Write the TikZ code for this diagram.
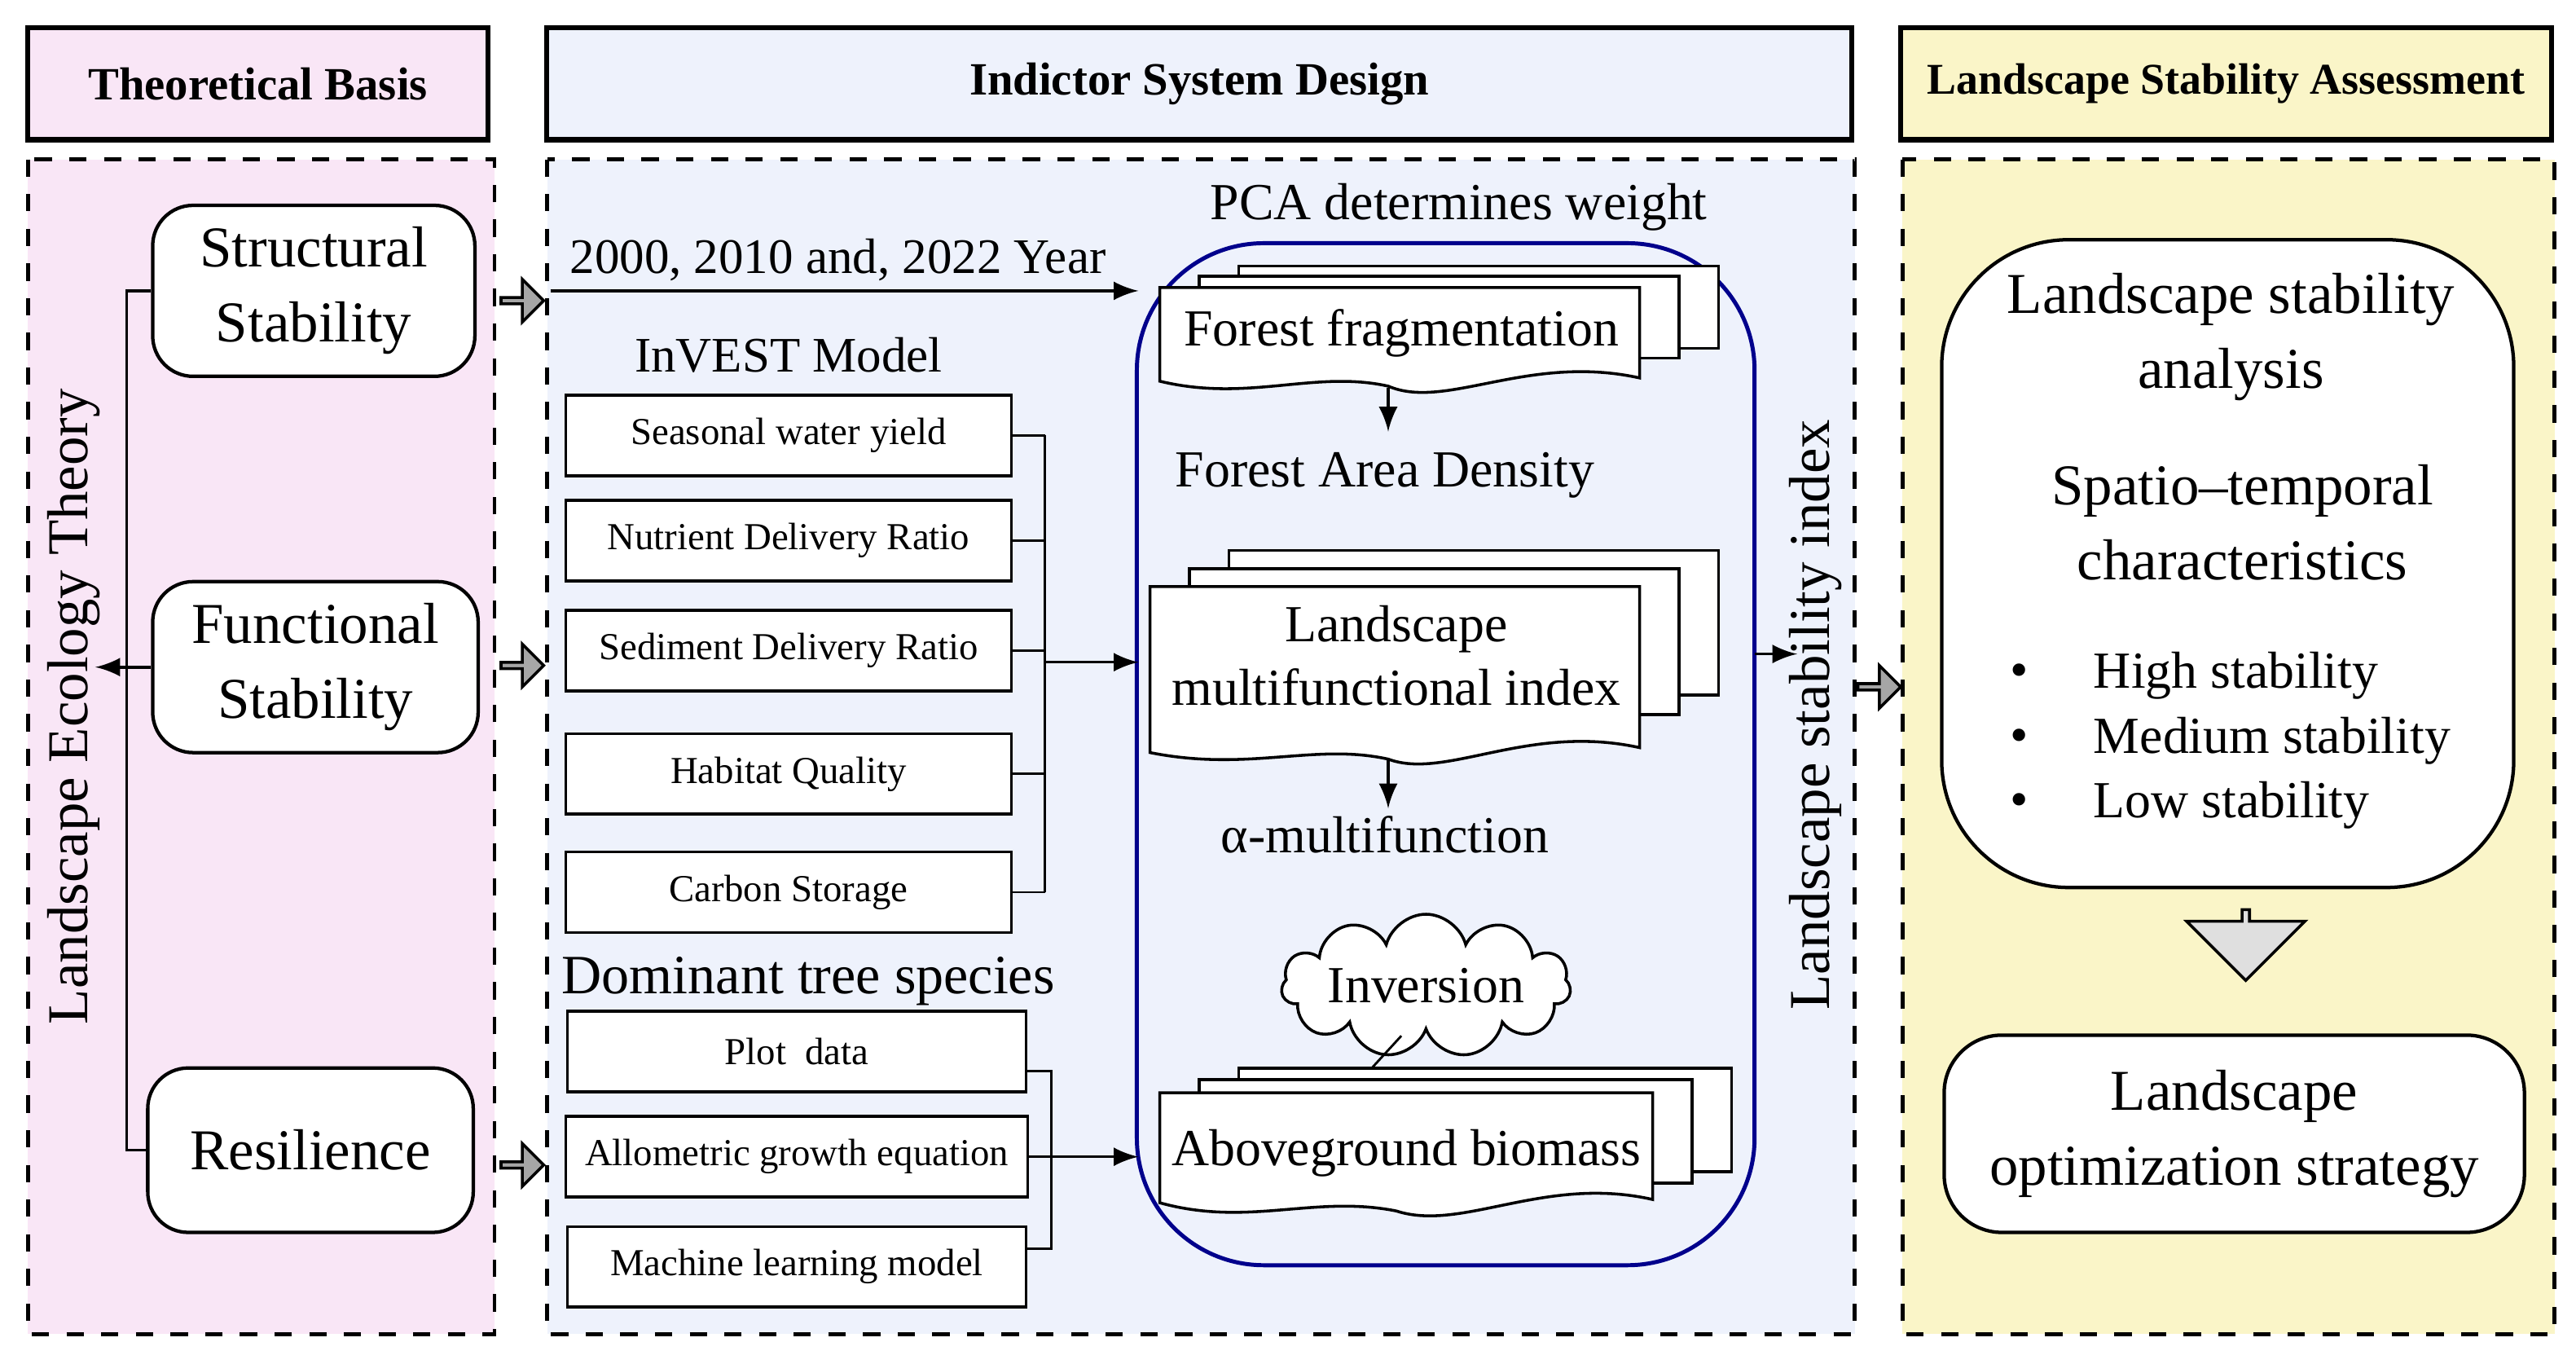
\documentclass[tikz,border=0pt]{standalone}
\usepackage{fontspec}
\setmainfont{Liberation Serif}
\usetikzlibrary{shapes.arrows,shapes.symbols}
\begin{document}
\begin{tikzpicture}[x=0.01cm,y=-0.01cm,
  big/.style={font=\fontsize{10}{13}\selectfont},
  mid/.style={font=\fontsize{8.6}{11}\selectfont},
  small/.style={font=\fontsize{6.6}{8}\selectfont},
  head/.style={draw,line width=0.9pt,font=\fontsize{8}{10}\selectfont\bfseries},
  panel/.style={draw,dashed,line width=0.7pt},
  rbox/.style={draw,rounded corners=7pt,line width=0.6pt,fill=white,big,align=center},
  sbox/.style={draw,line width=0.5pt,fill=white,small},
  arrow/.style={-latex,line width=0.5pt},
  blk/.style={single arrow,draw,fill=gray!70,line width=0.5pt,minimum height=0.26cm,minimum width=0.26cm,single arrow head extend=0.05cm,inner sep=0pt},
  doc/.style={draw,fill=white,line width=0.5pt}
]
\useasboundingbox (0,0) rectangle (1568,830);
\definecolor{pinkf}{HTML}{F9E6F6}
\definecolor{bluef}{HTML}{EEF2FC}
\definecolor{yelf}{HTML}{FAF5C8}
% headers
\node[head,fill=pinkf,minimum width=2.8cm,minimum height=0.68cm] (h1) at (157,51) {Theoretical Basis};
\node[head,fill=bluef,minimum width=7.94cm,minimum height=0.68cm] (h2) at (730,51) {Indictor System Design};
\node[head,fill=yelf,minimum width=3.96cm,minimum height=0.68cm,font=\fontsize{7.6}{9}\selectfont\bfseries] (h3) at (1355,51) {Landscape Stability Assessment};
% panels
\filldraw[panel,fill=pinkf] (17,97) rectangle (301,812);
\filldraw[panel,fill=bluef] (333,97) rectangle (1129,812);
\filldraw[panel,fill=yelf] (1158,97) rectangle (1555,812);
% left
\node[rbox,minimum width=1.96cm,minimum height=1.04cm] (ss) at (191,177) {Structural\\Stability};
\node[rbox,minimum width=1.98cm,minimum height=1.04cm] (fs) at (192,406) {Functional\\Stability};
\node[rbox,minimum width=1.98cm,minimum height=1.0cm] (rs) at (189,700) {Resilience};
\coordinate (t1) at (77,177); \coordinate (t2) at (77,700); \coordinate (t3) at (77,406);
\draw[line width=0.5pt] (ss.west) -- (t1) -- (t2) -- (rs.west);
\draw[line width=0.5pt] (fs.west) -- (t3);
\draw[arrow] (t3) -- (58,406);
\node[big,rotate=90] (let) at (45,430) {Landscape Ecology Theory};
\node[blk] (a1) at (317,183) {};
\node[blk] (a2) at (317,405) {};
\node[blk] (a3) at (317,709) {};
% middle left
\coordinate (ys) at (335,177);
\node[mid] (yr) at (510,158) {2000, 2010 and, 2022 Year};
\node[mid] (inv) at (480,216) {InVEST Model};
\foreach \n/\t/\y in {b1/Seasonal water yield/265,b2/Nutrient Delivery Ratio/329,b3/Sediment Delivery Ratio/396,b4/Habitat Quality/471,b5/Carbon Storage/543}
  \node[sbox,minimum width=2.71cm,minimum height=0.49cm] (\n) at (480,\y) {\t};
\foreach \n in {b1,b2,b3,b4,b5} \draw[line width=0.4pt] (\n.east) -- (636,0 |- \n.east);
\draw[line width=0.4pt] (636,265) -- (636,543);
\coordinate (j1) at (636,403);
\node[mid,font=\fontsize{9.6}{12}\selectfont] (dts) at (492,597) {Dominant tree species};
\foreach \n/\t/\y in {c1/Plot\ \ data/640,c2/Allometric growth equation/704,c3/Machine learning model/771}
  \node[sbox,minimum width=2.79cm,minimum height=0.49cm] (\n) at (485,\y) {\t};
\draw[line width=0.4pt] (c1.east |- 0,652) -- (640,652) -- (640,760) -- (c3.east |- 0,760);
\coordinate (j2) at (640,704);
% blue frame
\draw[line width=0.7pt,draw=blue!55!black,rounded corners=22pt] (692,148) rectangle (1068,770);
\node[mid,font=\fontsize{9}{11}\selectfont] (pca) at (888,126) {PCA determines weight};
\coordinate (be1) at (693,177); \coordinate (be2) at (693,403); \coordinate (be3) at (693,704);
\draw[arrow] (ys) -- (be1);
\draw[arrow] (j1) -- (be2);
\draw[line width=0.4pt] (c2.east) -- (j2);
\draw[arrow] (j2) -- (be3);
% stack 1
\draw[doc] (754,162) rectangle (1046,212);
\draw[doc] (730,168) rectangle (1022,218);
\draw[doc] (706,232) -- (706,175) -- (998,175) -- (998,230) .. controls (930,215) and (880,250) .. (845,235) .. controls (800,225) and (760,245) .. cycle;
\node[mid,font=\fontsize{9}{11}\selectfont] (ff) at (853,203) {Forest fragmentation};
\node[mid,font=\fontsize{9}{11}\selectfont] (fad) at (843,289) {Forest Area Density};
\draw[arrow] (845,236) -- (fad.north -| 845,0);
% stack 2
\draw[doc] (748,335) rectangle (1046,423);
\draw[doc] (724,346) rectangle (1022,435);
\draw[doc] (700,458) -- (700,357) -- (998,357) -- (998,455) .. controls (930,440) and (880,475) .. (845,462) .. controls (800,452) and (760,470) .. cycle;
\node[mid,font=\fontsize{9}{11}\selectfont,align=center] (lmi) at (850,399) {Landscape\\multifunctional index};
\node[mid,font=\fontsize{9}{11}\selectfont] (am) at (843,508) {α-multifunction};
\draw[arrow] (845,462) -- (845,492);
% stack 3
\draw[doc] (754,650) rectangle (1054,713);
\draw[doc] (730,657) rectangle (1030,720);
\draw[doc] (706,732) -- (706,665) -- (1006,665) -- (1006,730) .. controls (940,715) and (890,750) .. (850,737) .. controls (800,727) and (760,747) .. cycle;
\node[mid,font=\fontsize{9}{11}\selectfont] (agb) at (856,702) {Aboveground biomass};
\node[cloud,draw,fill=white,cloud puffs=11,aspect=3.2,minimum width=1.76cm,minimum height=0.62cm,inner sep=0pt,line width=0.5pt,mid,font=\fontsize{9}{11}\selectfont] (cl) at (868,600) {Inversion};
\draw[line width=0.4pt] (cl.south) ++(-15,2) -- (835,650);
% index
\node[big,rotate=90] (lsi) at (1105,435) {Landscape stability index};
\draw[arrow] (1068,398) -- (1094,398);
\node[blk] (a4) at (1143,418) {};
% right
\node[rbox,rounded corners=22pt,minimum width=3.48cm,minimum height=3.94cm] (ra) at (1356,343) {};
\node[big,align=center] (t1a) at (1358,205) {Landscape stability\\analysis};
\node[big,align=center] (t2a) at (1365,318) {Spatio--temporal\\characteristics};
\foreach \n/\t/\y in {l1/High stability/411,l2/Medium stability/451,l3/Low stability/490}{
  \node[mid,font=\fontsize{9}{11}\selectfont] at (1229,\y) {•};
  \node[mid,font=\fontsize{9}{11}\selectfont,anchor=west] (\n) at (1262,\y) {\t};}
\node[single arrow,draw,fill=gray!25,line width=0.5pt,shape border rotate=270,minimum height=0.43cm,minimum width=0.72cm,single arrow head extend=0.13cm,inner sep=0pt] (dn) at (1367,574) {};
\node[rbox,rounded corners=10pt,minimum width=3.53cm,minimum height=1.2cm] (los) at (1360,690) {Landscape\\optimization strategy};
\end{tikzpicture}
\end{document}
